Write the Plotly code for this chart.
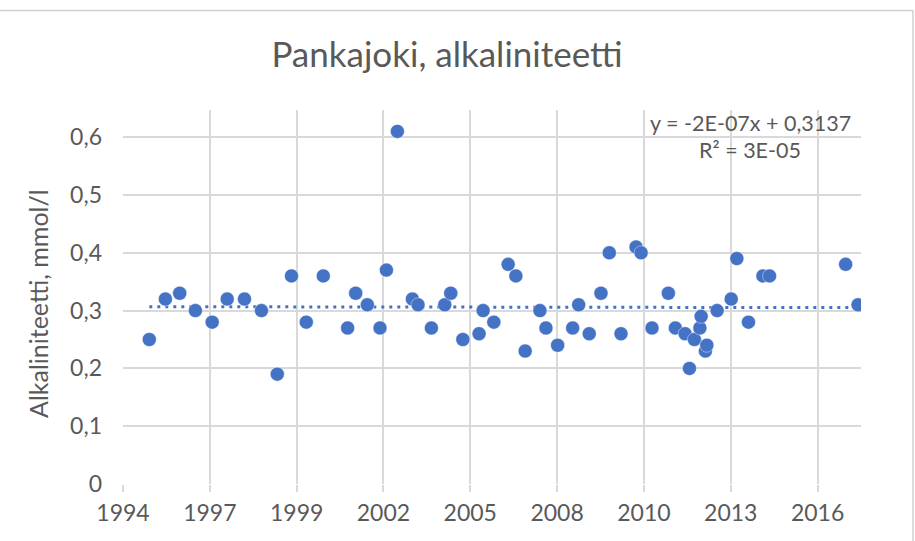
from datetime import datetime, timedelta

import plotly.graph_objects as go

# Sampling dates and measured alkalinity (mmol/l) at Pankajoki
dates = [
    "1995-04-14", "1995-10-16", "1996-03-29", "1996-09-26", "1997-04-07",
    "1997-09-27", "1998-04-14", "1998-10-27", "1999-04-27", "1999-10-08",
    "2000-03-26", "2000-10-08", "2001-07-15", "2001-10-16", "2002-02-27",
    "2002-07-23", "2002-10-05", "2003-02-08", "2003-07-31", "2003-10-04",
    "2004-03-06", "2004-08-07", "2004-10-15", "2005-03-03", "2005-09-06",
    "2005-10-23", "2006-02-23", "2006-08-07", "2006-11-04", "2007-02-19",
    "2007-08-08", "2007-10-16", "2008-02-28", "2008-08-19", "2008-10-27",
    "2009-02-26", "2009-07-11", "2009-10-15", "2010-02-27", "2010-08-19",
    "2010-10-16", "2011-02-19", "2011-08-26", "2011-11-15", "2012-03-06",
    "2012-04-25", "2012-06-21", "2012-08-23", "2012-09-07", "2012-10-26",
    "2012-11-11", "2013-03-10", "2013-08-19", "2013-10-23", "2014-03-06",
    "2014-08-19", "2014-11-04", "2017-03-29", "2017-08-19",
]
alkalinity = [
    0.25, 0.32, 0.33, 0.30, 0.28,
    0.32, 0.32, 0.30, 0.19, 0.36,
    0.28, 0.36, 0.27, 0.33, 0.31,
    0.27, 0.37, 0.61, 0.32, 0.31,
    0.27, 0.31, 0.33, 0.25, 0.26,
    0.30, 0.28, 0.38, 0.36, 0.23,
    0.30, 0.27, 0.24, 0.27, 0.31,
    0.26, 0.33, 0.40, 0.26, 0.41,
    0.40, 0.27, 0.33, 0.27, 0.26,
    0.20, 0.25, 0.27, 0.29, 0.23,
    0.24, 0.30, 0.32, 0.39, 0.28,
    0.36, 0.36, 0.38, 0.31,
]

# Linear trend (x = spreadsheet day serial)
trend_slope = -2e-07
trend_intercept = 0.3137
trend_label = "y = -2E-07x + 0,3137"
r2_label = "R² = 3E-05"

# Axis ticks: the date axis steps 1000 days from serial 34500
x_tick_labels = ["1994", "1997", "1999", "2002", "2005", "2008", "2010", "2013", "2016"]
y_tick_values = [0, 0.1, 0.2, 0.3, 0.4, 0.5, 0.6]
y_tick_labels = ["0", "0,1", "0,2", "0,3", "0,4", "0,5", "0,6"]

EPOCH = datetime(1899, 12, 30)


def serial_to_date(serial):
    return EPOCH + timedelta(days=serial)


def date_to_serial(text):
    return (datetime.strptime(text, "%Y-%m-%d") - EPOCH).days


x_tick_vals = [serial_to_date(34500 + 1000 * i) for i in range(len(x_tick_labels))]
x_range = [serial_to_date(34500), serial_to_date(43000)]

trend_x = [dates[0], dates[-1]]
trend_y = [trend_slope * date_to_serial(d) + trend_intercept for d in trend_x]

BLUE = "#4472c4"
GRID = "#d9d9d9"
TEXT = "#595959"
FONT = "Lato"
WEIGHT = 400

fig = go.Figure()
fig.add_trace(go.Scatter(
    x=trend_x, y=trend_y, mode="lines",
    line=dict(color=BLUE, width=3, dash="3px,5px"),
    hoverinfo="skip", showlegend=False,
))
fig.add_trace(go.Scatter(
    x=dates, y=alkalinity, mode="markers",
    marker=dict(size=14, color=BLUE, line=dict(width=0.6, color="rgba(255,255,255,0.7)")),
    showlegend=False,
))

W, H = 915, 541
L, R, T, B = 123, 54, 110, 57
pw, ph = W - L - R, H - T - B


def px(xpix):
    return (xpix - L) / pw


def py(ypix):
    return (H - B - ypix) / ph


tick_font = dict(family=FONT, size=23, color=TEXT, weight=WEIGHT)
label_font = dict(family=FONT, size=21.5, color=TEXT, weight=WEIGHT)

fig.update_layout(
    width=W, height=H,
    margin=dict(l=L, r=R, t=T, b=B),
    paper_bgcolor="white", plot_bgcolor="white",
    font=dict(family=FONT, color=TEXT, size=23),
    title=dict(
        text="Pankajoki, alkaliniteetti",
        x=447 / W, xanchor="center", xref="container",
        y=1 - 55 / H, yanchor="middle", yref="container",
        font=dict(family=FONT, size=35, color=TEXT, weight=WEIGHT),
    ),
    xaxis=dict(
        type="date", range=x_range,
        tickmode="array", tickvals=x_tick_vals, ticktext=x_tick_labels,
        showgrid=True, gridcolor=GRID, gridwidth=1.5,
        ticks="outside", ticklen=7, tickcolor=GRID, tickwidth=1.5,
        showline=False, zeroline=False,
        tickfont=tick_font,
        ticklabelstandoff=1,
    ),
    yaxis=dict(
        range=[0, 0.647],
        tickmode="array", tickvals=y_tick_values, ticktext=y_tick_labels,
        showgrid=True, gridcolor=GRID, gridwidth=1.5,
        ticks="", showline=False, zeroline=False,
        tickfont=tick_font,
        ticklabelstandoff=20,
    ),
    annotations=[
        dict(
            text="Alkaliniteetti, mmol/l", textangle=-90,
            xref="paper", yref="paper", x=px(38), y=py(304),
            xanchor="center", yanchor="middle", showarrow=False,
            font=dict(family=FONT, size=25, color=TEXT, weight=WEIGHT),
        ),
        dict(
            text=trend_label, xref="paper", yref="paper",
            x=px(750), y=py(123), xanchor="center", yanchor="middle",
            showarrow=False, font=label_font,
        ),
        dict(
            text=r2_label, xref="paper", yref="paper",
            x=px(750), y=py(150), xanchor="center", yanchor="middle",
            showarrow=False, font=label_font,
        ),
    ],
    shapes=[
        dict(type="line", xref="paper", yref="paper",
             x0=px(-2), x1=px(913), y0=py(10.5), y1=py(10.5),
             line=dict(color="#d0d0d0", width=1.5)),
        dict(type="line", xref="paper", yref="paper",
             x0=px(913), x1=px(913), y0=py(10.5), y1=py(545),
             line=dict(color="#d0d0d0", width=1.5)),
    ],
)

fig.write_html("out.html")
